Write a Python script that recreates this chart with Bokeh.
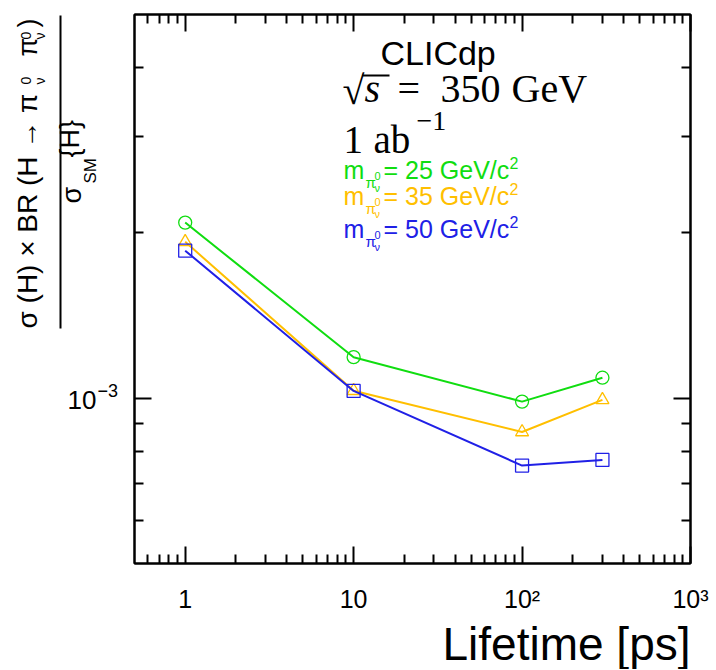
import math
from bokeh.plotting import figure
from bokeh.layouts import row
from bokeh.models import Label, FixedTicker, LogAxis, BoxAnnotation, Range1d, Title
from bokeh.embed import file_html
from bokeh.resources import INLINE

# ---------------- data ----------------
lifetime_ps = [1, 10, 100, 300]
ratio_m25 = [2.089e-3, 1.188e-3, 0.986e-3, 1.090e-3]
ratio_m35 = [1.927e-3, 1.032e-3, 0.868e-3, 0.993e-3]
ratio_m50 = [1.857e-3, 1.031e-3, 0.754e-3, 0.772e-3]

x_major_ticks = [1, 10, 100, 1000]
x_tick_labels = ["1", "10", "10²", "10³"]
x_minor_ticks = [0.6, 0.7, 0.8, 0.9, 2, 3, 4, 5, 6, 7, 8, 9,
                 20, 30, 40, 50, 60, 70, 80, 90,
                 200, 300, 400, 500, 600, 700, 800, 900]
y_major_ticks = [1e-3]
y_minor_ticks = [6e-4, 7e-4, 8e-4, 9e-4, 2e-3, 3e-3, 4e-3]

mass_values = ["25", "35", "50"]
series = [ratio_m25, ratio_m35, ratio_m50]
colors = ["#10dd10", "#ffbf00", "#2020e6"]
markers = ["circle", "triangle", "square"]

SANS = "Liberation Sans"
SERIF = "Liberation Serif"
SIDE_W = 128

# ---------------- main plot ----------------
p = figure(x_axis_type="log", y_axis_type="log",
           x_range=Range1d(0.5, 1000), y_range=Range1d(5e-4, 5e-3),
           frame_width=556, frame_height=549,
           min_border_left=134 - SIDE_W, min_border_right=26,
           min_border_top=14, min_border_bottom=100,
           output_backend="svg", toolbar_location=None)
p.outline_line_color = "black"
p.outline_line_width = 2
p.xgrid.visible = False
p.ygrid.visible = False
p.background_fill_color = "white"
p.border_fill_color = "white"


def style_axis(ax, ticks, minor, labels, show):
    ax.ticker = FixedTicker(ticks=ticks, minor_ticks=minor)
    ax.major_tick_in = 17
    ax.major_tick_out = 0
    ax.minor_tick_in = 9
    ax.minor_tick_out = 0
    ax.axis_line_width = 2
    ax.major_tick_line_width = 2
    ax.minor_tick_line_width = 2
    ax.major_label_overrides = dict(zip(ticks, labels))
    ax.major_label_text_font = SANS
    ax.major_label_text_color = "black"
    if not show:
        ax.major_label_text_font_size = "1px"
        ax.major_label_standoff = 0


xa = p.xaxis[0]
style_axis(xa, x_major_ticks, x_minor_ticks, x_tick_labels, True)
xa.major_label_text_font_size = "25px"
xa.major_label_standoff = 21

ya = p.yaxis[0]
style_axis(ya, y_major_ticks, y_minor_ticks, [" "], False)

top_ax = LogAxis()
style_axis(top_ax, x_major_ticks, x_minor_ticks, [" "] * len(x_major_ticks), False)
p.add_layout(top_ax, "above")
right_ax = LogAxis()
style_axis(right_ax, y_major_ticks, y_minor_ticks, [" "] * len(y_major_ticks), False)
p.add_layout(right_ax, "right")

# x-axis title, right-aligned under the frame
p.add_layout(Title(text="Lifetime [ps]", align="right", text_font=SANS,
                   text_font_size="46px", text_font_style="normal",
                   text_color="black", standoff=0, offset=0), "below")

for vals, col, mk in zip(series, colors, markers):
    p.line(lifetime_ps, vals, line_color=col, line_width=2)
    p.scatter(lifetime_ps, vals, marker=mk, size=13, fill_color=None,
              line_color=col, line_width=1.3)

# ---------------- side panel for the y title ----------------
side = figure(width=SIDE_W, height=670, x_range=Range1d(0, SIDE_W), y_range=Range1d(0, 670),
              x_axis_location=None, y_axis_location=None, min_border=0,
              output_backend="svg", toolbar_location=None)
side.frame_align = False
side.outline_line_color = None
side.background_fill_color = "white"
side.border_fill_color = "white"
for g in side.grid:
    g.visible = False

SHIFT = 0.4  # measured offset of the rendered baseline, in font sizes


def txt(fig, ox, oy, px, py, s, size, color="black", font=SANS, style="normal",
        align="left", angle=0.0):
    if angle == 0.0:
        py = py - SHIFT * size
    else:
        px = px - SHIFT * size
    fig.add_layout(Label(x=px - ox, y=oy - py, x_units="screen", y_units="screen",
                         text=s, text_font_size=f"{size}px", text_color=color,
                         text_font=font, text_font_style=style,
                         text_align=align, text_baseline="alphabetic", angle=angle))


def bar(fig, ox, oy, x0, x1, y0, y1):
    fig.add_layout(BoxAnnotation(left=x0 - ox, right=x1 - ox, top=oy - y0, bottom=oy - y1,
                                 left_units="screen", right_units="screen",
                                 top_units="screen", bottom_units="screen",
                                 fill_color="black", fill_alpha=1.0, line_color=None))


def mtxt(*a, **k):
    txt(p, 134, 563, *a, **k)


def stxt(*a, **k):
    txt(side, 0, 670, *a, **k)


# header
mtxt(380, 66, "CLICdp", 34)
mtxt(342, 106, "√", 40, font=SERIF)
bar(p, 134, 563, 362, 389, 74, 76)
mtxt(364, 104, "s", 40, font=SERIF, style="italic")
mtxt(397, 104, "=", 40, font=SERIF)
mtxt(440, 104, "350", 40, font=SERIF)
mtxt(511, 104, "GeV", 40, font=SERIF)
mtxt(343, 155, "1", 39, font=SERIF)
mtxt(373, 155, "ab", 39, font=SERIF)
mtxt(416, 132, "−1", 28, font=SERIF)

# legend rows
row_base = [179, 205, 238]
for b, m, col in zip(row_base, mass_values, colors):
    mtxt(343, b, "m", 25, color=col)
    mtxt(365, b + 9, "π", 15, color=col)
    mtxt(374, b + 1, "0", 11, color=col)
    mtxt(374, b + 13, "ν", 11, color=col)
    mtxt(383, b, f"= {m} GeV/c", 25, color=col)
    mtxt(509, b - 10, "2", 16, color=col)

# y-axis title (rotated fraction) in the side panel
up = math.pi / 2
stxt(38, 328, "σ (H)  ×  BR (H → π", 28, angle=up)
stxt(31, 84, "0", 14, angle=up)
stxt(45, 84, "ν", 14, angle=up)
stxt(38, 56, "π", 27, angle=up)
stxt(31, 39, "0", 14, angle=up)
stxt(45, 39, "ν", 14, angle=up)
stxt(38, 27, ")", 27, angle=up)
bar(side, 0, 670, 59, 61, 15, 328)
stxt(82, 203, "σ", 27, angle=up)
stxt(97, 183, "SM", 17, angle=up)
stxt(80, 157, "{H}", 27, angle=up)

# y tick label 10^-3
stxt(96, 410, "10", 26, align="right")
stxt(97, 397, "−3", 18)

open("out.html", "w").write(file_html(row(side, p), INLINE))
